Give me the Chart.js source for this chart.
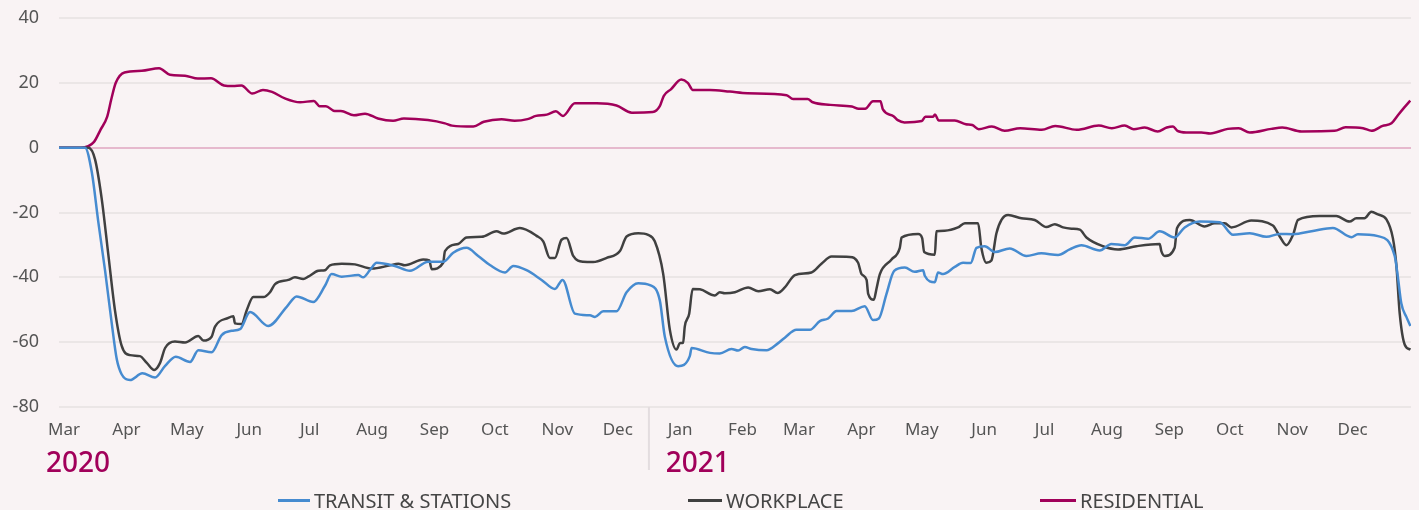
<!DOCTYPE html>
<html>
<head>
<meta charset="utf-8">
<script src="https://cdn.jsdelivr.net/npm/chart.js"></script>
<style>
  html, body { margin: 0; padding: 0; background: #f9f3f4; }
  #wrap { position: relative; width: 1419px; height: 510px; overflow: hidden; }
  #legend { position: absolute; left: 0; top: 488px; width: 1419px; height: 24px; font-family: "Noto Sans", sans-serif; font-size: 20px; color: #454545; }
  .item { position: absolute; top: 0; height: 24px; display: flex; align-items: center; white-space: nowrap; }
  .item span.line { display: inline-block; height: 3px; margin-right: 4px; }
</style>
</head>
<body>
<div id="wrap">
  <canvas id="myChart" width="1419" height="510"></canvas>
  <div id="legend"></div>
</div>
<script>
// Month tick labels (Mar 2020 .. Dec 2021), placed at the first day of each month
const monthLabels = ['Mar', 'Apr', 'May', 'Jun', 'Jul', 'Aug', 'Sep', 'Oct', 'Nov', 'Dec',
    'Jan', 'Feb', 'Mar', 'Apr', 'May', 'Jun', 'Jul', 'Aug', 'Sep', 'Oct', 'Nov', 'Dec'];
// days since 1 Mar 2020
const monthStartDays = [0, 31, 61, 92, 122, 153, 184, 214, 245, 275,
    306, 337, 365, 396, 426, 457, 487, 518, 549, 579, 610, 640];
const yearLabels = ['2020', '2021'];
const yearStartIndex = [0, 10];

// Transit & stations (% change from baseline)
const transitDays = [-2.5, 10.4, 13.8, 17.0, 20.4, 23.7, 26.2, 28.6, 32.8, 38.9, 45.2, 50.1, 55.5, 62.6, 66.7, 73.3, 78.3, 83.3, 87.4, 92.4,
    101.4, 110.6, 115.5, 123.8, 129.6, 132.9, 137.9, 146.1, 148.6, 151.9, 155.3, 164.3, 171.8, 180.9, 188.3, 193.3, 199.9, 205.7, 211.5, 219.0,
    223.1, 229.7, 237.2, 243.8, 247.6, 253.7, 261.2, 263.7, 267.8, 274.4, 279.4, 285.2, 291.0, 295.9, 298.4, 305.0, 310.8, 311.7, 320.8, 325.7,
    331.5, 334.8, 338.1, 341.5, 348.9, 354.7, 358.0, 363.8, 370.4, 375.4, 379.5, 383.7, 391.1, 397.7, 401.8, 404.7, 408.5, 412.3, 417.6, 422.5,
    426.7, 427.5, 432.5, 434.1, 436.6, 442.4, 446.5, 450.3, 453.2, 457.3, 462.3, 469.7, 478.0, 485.4, 493.7, 499.5, 505.3, 514.4, 520.2, 526.8,
    531.8, 538.4, 544.2, 551.6, 556.6, 564.0, 574.0, 580.6, 588.9, 597.2, 603.8, 610.4, 620.3, 630.2, 639.4, 642.6, 652.6, 660.9, 662.5, 664.2,
    666.7, 668.7];
const transitValues = [0, 0, -7.6, -22.8, -38, -54.2, -65.3, -69.9, -71.7, -69.6, -70.9, -67.4, -64.5, -66.1, -62.5, -63.1, -57.8, -56.5, -56, -50.7,
    -55, -49.1, -45.9, -47.6, -42.6, -39, -39.8, -39.3, -40, -37.8, -35.5, -36.5, -38, -35.2, -35.2, -32.4, -30.9, -33.4, -36.2, -38.5,
    -36.5, -37.8, -40.8, -43.6, -40.8, -51.2, -51.7, -52.2, -50.5, -50.5, -44.6, -41.8, -42.4, -47.1, -58.3, -67.4, -64.3, -61.8, -63.3, -63.5,
    -62.1, -62.6, -61.5, -62.1, -62.5, -60.3, -58.6, -56.2, -56.2, -53.5, -52.7, -50.4, -50.4, -48.9, -53.2, -52.7, -45.1, -38, -37, -38.3,
    -37.8, -39.5, -41.5, -38.5, -39, -36.8, -35.5, -35.6, -30.9, -30.4, -32.2, -31.1, -33.4, -32.6, -33.1, -31.4, -30.1, -31.7, -29.7, -30.1,
    -27.7, -28.1, -25.8, -27.7, -24.6, -22.8, -23, -26.9, -26.4, -27.5, -26.6, -26.7, -25.7, -24.8, -27.6, -26.7, -27.3, -33.4, -40, -48.1,
    -52.2, -55];

// Workplace
const workplaceDays = [-2.5, 12.1, 15.4, 18.7, 22.0, 25.3, 28.6, 32.8, 37.7, 41.1, 44.8, 47.7, 50.2, 55.1, 60.1, 66.7, 69.2, 73.3, 75.0, 81.6,
    84.1, 84.9, 88.2, 90.7, 94.0, 99.0, 102.3, 104.8, 111.4, 114.7, 118.8, 121.3, 126.3, 129.6, 132.1, 137.9, 144.5, 152.8, 161.9, 166.0,
    169.3, 178.4, 181.4, 182.6, 188.3, 189.2, 195.8, 199.9, 207.4, 214.8, 218.1, 226.4, 234.7, 238.0, 241.3, 243.8, 247.1, 249.6, 252.9, 257.8,
    262.8, 269.5, 276.1, 279.4, 285.2, 290.1, 293.4, 297.6, 300.9, 304.2, 305.9, 307.5, 308.3, 310.5, 312.2, 315.8, 323.2, 325.7, 328.2, 333.2,
    339.8, 344.8, 350.6, 354.4, 358.0, 363.0, 371.2, 376.2, 381.2, 390.3, 394.4, 396.1, 398.6, 399.4, 402.2, 403.5, 405.2, 411.0, 415.1, 416.0,
    424.2, 426.2, 427.2, 432.5, 433.3, 437.4, 444.0, 447.4, 454.0, 455.6, 458.1, 460.6, 463.1, 465.6, 468.9, 475.5, 482.1, 487.9, 492.1, 496.2,
    500.4, 504.5, 507.8, 516.0, 523.5, 532.6, 544.2, 545.0, 546.7, 551.6, 552.8, 559.1, 566.5, 571.5, 576.5, 579.8, 589.7, 600.4, 603.8, 607.1,
    610.4, 612.9, 623.6, 631.9, 638.5, 641.8, 645.9, 649.3, 652.6, 656.8, 660.0, 661.7, 663.4, 665.9, 668.7];
const workplaceValues = [0, 0, -3.6, -15.7, -33, -50.2, -61.1, -64, -64.3, -66.4, -68.6, -66.4, -61.8, -59.8, -60.1, -58.1, -59.5, -58.3, -55.2, -52.5,
    -52, -54.2, -54.4, -50.2, -46.1, -46.1, -44.6, -42.1, -40.8, -40, -40.5, -39.8, -38, -37.8, -36.3, -35.8, -36, -37.3, -36.3, -35.8,
    -36.3, -34.5, -34.8, -37.5, -35.5, -31.9, -29.7, -27.7, -27.5, -25.8, -26.5, -24.8, -27.2, -28.9, -34, -34, -28.4, -27.9, -33.4, -35.2,
    -35.3, -34, -31.9, -27.4, -26.4, -26.9, -28.9, -39, -56.2, -62.3, -60.3, -60.2, -55.2, -51.2, -43.6, -43.7, -45.6, -44.6, -44.9, -44.6,
    -43.1, -44.3, -43.7, -44.8, -43.1, -39.3, -38.5, -35.8, -33.6, -33.7, -35.5, -39, -40.8, -45.1, -46.9, -43.6, -39, -34.5, -30.9, -27.7,
    -26.6, -27.9, -32.2, -33, -25.8, -25.6, -24.6, -23.3, -23.3, -30.9, -35.5, -34.8, -26.4, -22.3, -20.8, -21.8, -22.3, -24.5, -23.6, -24.6,
    -25, -25.3, -27.7, -30.4, -31.4, -30.4, -29.7, -31.9, -33.4, -30.9, -24.8, -22.3, -24.3, -23.3, -23.3, -24.6, -22.5, -24, -27.4, -30.1,
    -26.9, -22.3, -21.1, -21.1, -22.8, -21.8, -21.8, -19.8, -20.6, -22.1, -27.9, -36, -51.2, -60.8, -62.3];

// Residential
const residentialDays = [-2.5, 8.4, 14.9, 18.1, 21.4, 23.5, 25.7, 30.0, 38.6, 47.2, 52.6, 60.1, 66.5, 73.0, 79.4, 83.9, 88.1, 93.5, 98.8, 103.3,
    109.7, 117.2, 124.1, 126.9, 130.1, 134.4, 137.5, 144.0, 149.5, 155.9, 163.4, 168.8, 180.7, 189.2, 192.7, 203.3, 208.5, 217.3, 223.8, 230.2,
    234.4, 239.8, 244.3, 247.8, 253.7, 264.6, 274.4, 282.0, 292.4, 295.9, 297.9, 301.4, 306.6, 309.8, 312.3, 320.8, 330.7, 339.4, 358.9, 362.1,
    369.3, 371.9, 380.6, 391.3, 394.7, 397.9, 401.8, 405.5, 406.7, 412.0, 414.1, 417.4, 426.0, 427.8, 431.5, 432.6, 434.4, 442.4, 447.9, 451.1,
    454.3, 460.8, 467.2, 474.9, 485.6, 492.3, 503.0, 513.9, 520.4, 526.8, 531.3, 536.7, 543.2, 547.7, 550.8, 553.0, 557.3, 564.9, 569.3, 578.0,
    583.4, 588.9, 599.6, 605.1, 614.7, 631.1, 636.5, 645.2, 649.4, 654.9, 659.3, 662.5, 665.8, 668.6];
const residentialValues = [0, 0, 1.8, 5.5, 9.5, 15, 20, 23.2, 23.7, 24.5, 22.5, 22.2, 21.3, 21.4, 19.2, 19, 19.2, 16.7, 17.8, 17.2,
    15.2, 14, 14.4, 12.8, 12.8, 11.3, 11.3, 10, 10.5, 9, 8.3, 9, 8.5, 7.5, 6.8, 6.5, 8, 8.8, 8.3, 8.8,
    9.8, 10.2, 11.2, 9.8, 13.7, 13.7, 13, 10.8, 11, 12.8, 16, 18, 21, 20, 17.8, 17.8, 17.3, 16.8, 16.2, 15,
    15, 14, 13.2, 12.7, 12, 12, 14.3, 14.3, 11.8, 9.7, 8.5, 7.8, 8.2, 9.5, 9.5, 10.2, 8.4, 8.4, 7.2, 7,
    5.7, 6.5, 5.2, 6, 5.5, 6.7, 5.5, 6.8, 6, 6.8, 5.7, 6.2, 5, 6.2, 6.5, 5.2, 4.7, 4.7, 4.4, 5.8,
    6, 4.7, 5.8, 6.2, 5, 5.2, 6.3, 6, 5.2, 6.7, 7.5, 10, 12.5, 14.5];

const seriesNames = ['TRANSIT & STATIONS', 'WORKPLACE', 'RESIDENTIAL'];
const seriesColors = ['#468bd0', '#404040', '#a1005a'];

const FONT = '"Noto Sans", sans-serif';

function points(days, values) {
    return days.map((d, i) => ({ x: d, y: values[i] }));
}

function makeDataset(i, days, values) {
    return {
        label: seriesNames[i],
        data: points(days, values),
        borderColor: seriesColors[i],
        backgroundColor: seriesColors[i],
        borderWidth: 2.5,
        pointRadius: 0,
        cubicInterpolationMode: 'monotone',
        fill: false
    };
}

// year labels under the month axis + the thin divider between Dec and Jan
const yearPlugin = {
    id: 'yearLabels',
    afterDraw(chart) {
        const ctx = chart.ctx;
        const x = chart.scales.x;
        ctx.save();
        ctx.font = '17px ' + FONT;
        const monthW = yearStartIndex.map(i => ctx.measureText(monthLabels[i]).width);
        ctx.font = '500 28px ' + FONT;
        ctx.fillStyle = '#a1005a';
        ctx.textAlign = 'left';
        ctx.textBaseline = 'alphabetic';
        yearLabels.forEach((y, k) => {
            const px = x.getPixelForValue(monthStartDays[yearStartIndex[k]]) - monthW[k] / 2 - 2;
            ctx.fillText(y, px, 472);
        });
        const sep = x.getPixelForValue((monthStartDays[9] + monthStartDays[10]) / 2);
        ctx.strokeStyle = '#e3dddf';
        ctx.lineWidth = 2;
        ctx.beginPath();
        ctx.moveTo(sep, chart.chartArea.bottom);
        ctx.lineTo(sep, 470);
        ctx.stroke();
        ctx.restore();
    }
};

const config = {
    type: 'line',
    data: {
        datasets: [
            makeDataset(0, transitDays, transitValues),
            makeDataset(1, workplaceDays, workplaceValues),
            makeDataset(2, residentialDays, residentialValues)
        ]
    },
    options: {
        responsive: false,
        animation: false,
        layout: { padding: { top: 18, right: 8, left: 0, bottom: 0 } },
        plugins: {
            legend: { display: false },
            tooltip: { enabled: false }
        },
        scales: {
            x: {
                type: 'linear',
                min: -2.5,
                max: 669,
                grid: { display: false, drawTicks: false },
                border: { display: false },
                afterBuildTicks: s => { s.ticks = monthStartDays.map(v => ({ value: v })); },
                afterFit: s => { s.height = 103; },
                ticks: {
                    autoSkip: false,
                    maxRotation: 0,
                    padding: 13,
                    color: '#555',
                    font: { family: FONT, size: 17 },
                    callback: (v, i) => monthLabels[i]
                }
            },
            y: {
                min: -80,
                max: 40,
                grid: {
                    drawTicks: true,
                    tickLength: 20,
                    tickColor: 'rgba(0,0,0,0)',
                    lineWidth: 2,
                    color: c => (c.tick && c.tick.value === 0) ? '#e6b9cd' : '#ebe6e6'
                },
                border: { display: false },
                afterFit: s => { s.width = 59; },
                ticks: {
                    stepSize: 20,
                    padding: 0,
                    color: '#555',
                    font: { family: FONT, size: 18 }
                }
            }
        }
    },
    plugins: [yearPlugin]
};

var myChart = new Chart(document.getElementById('myChart'), config);

// legend row
const legendLeft = [278, 688, 1040];
const legendLineW = [32, 34, 36];
const legend = document.getElementById('legend');
seriesNames.forEach((name, i) => {
    const item = document.createElement('div');
    item.className = 'item';
    item.style.left = legendLeft[i] + 'px';
    const line = document.createElement('span');
    line.className = 'line';
    line.style.width = legendLineW[i] + 'px';
    line.style.background = seriesColors[i];
    const txt = document.createElement('span');
    txt.textContent = name;
    item.appendChild(line);
    item.appendChild(txt);
    legend.appendChild(item);
});
</script>
</body>
</html>
